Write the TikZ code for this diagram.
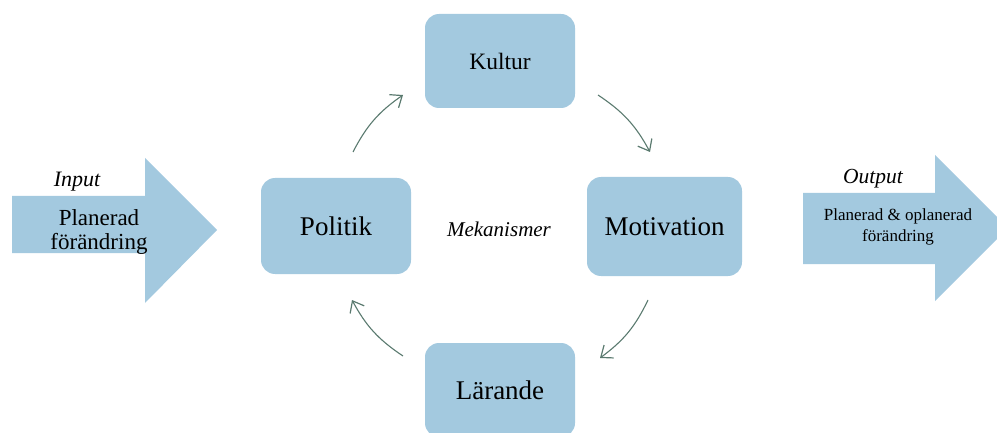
\documentclass[tikz,border=0pt]{standalone}
\usepackage{fontspec}
\setmainfont{Liberation Serif}
\usetikzlibrary{arrows.meta}
\definecolor{boxblue}{HTML}{A3C9DF}
\definecolor{arrowgreen}{HTML}{5A7A6F}
\tikzset{
  box/.style={fill=boxblue, draw=none, rounded corners=14pt, minimum width=150pt, minimum height=95pt, inner sep=0pt, font=\fontsize{27}{30}\selectfont},
  bigarrow/.style={fill=boxblue, draw=none},
  cycle/.style={draw=arrowgreen, line width=1.1pt, -{Straight Barb[length=10pt,width=16pt,line width=1.2pt]}, bend left=14},
  lbl/.style={inner sep=0pt, align=center}
}
\begin{document}
\begin{tikzpicture}[x=1pt,y=-1pt]
\useasboundingbox (0,0) rectangle (997,433);
\clip (0,0) rectangle (997,433);
% big arrows
\fill[bigarrow] (12,196) -- (145,196) -- (145,158) -- (217,230) -- (145,303) -- (145,253) -- (12,253) -- cycle;
\fill[bigarrow] (803,193) -- (935,193) -- (935,155) -- (1008,228) -- (935,301) -- (935,264) -- (803,264) -- cycle;
\node[lbl, font=\itshape\fontsize{22}{24}\selectfont] (input) at (77,182) {Input};
\node[lbl, font=\fontsize{23}{24}\selectfont] (inText) at (99,232) {Planerad\\förändring};
\node[lbl, font=\itshape\fontsize{21.5}{24}\selectfont] (output) at (873,179) {Output};
\node[lbl, font=\fontsize{17}{21}\selectfont] (outText) at (898,227) {Planerad \& oplanerad\\förändring};
% boxes
\node[box, font=\fontsize{23.5}{26}\selectfont, minimum height=94pt] (kultur) at (500,61) {Kultur};
\node[box, minimum height=96pt] (politik) at (336,226) {Politik};
\node[box, minimum width=155pt, minimum height=99pt] (motivation) at (664.5,226.5) {Motivation};
\node[box, minimum height=94pt] (larande) at (500,390) {Lärande};
\node[lbl, font=\itshape\fontsize{21}{24}\selectfont] (mek) at (499,229) {Mekanismer};
% cycle arrows
\coordinate (a1s) at (353,152); \coordinate (a1e) at (403,95);
\coordinate (a2s) at (598,95);  \coordinate (a2e) at (650,152);
\coordinate (a3s) at (648,300); \coordinate (a3e) at (600,358);
\coordinate (a4s) at (403,356); \coordinate (a4e) at (352,300);
\draw[cycle] (a1s) to (a1e);
\draw[cycle] (a2s) to (a2e);
\draw[cycle] (a3s) to (a3e);
\draw[cycle] (a4s) to (a4e);
\end{tikzpicture}
\end{document}
